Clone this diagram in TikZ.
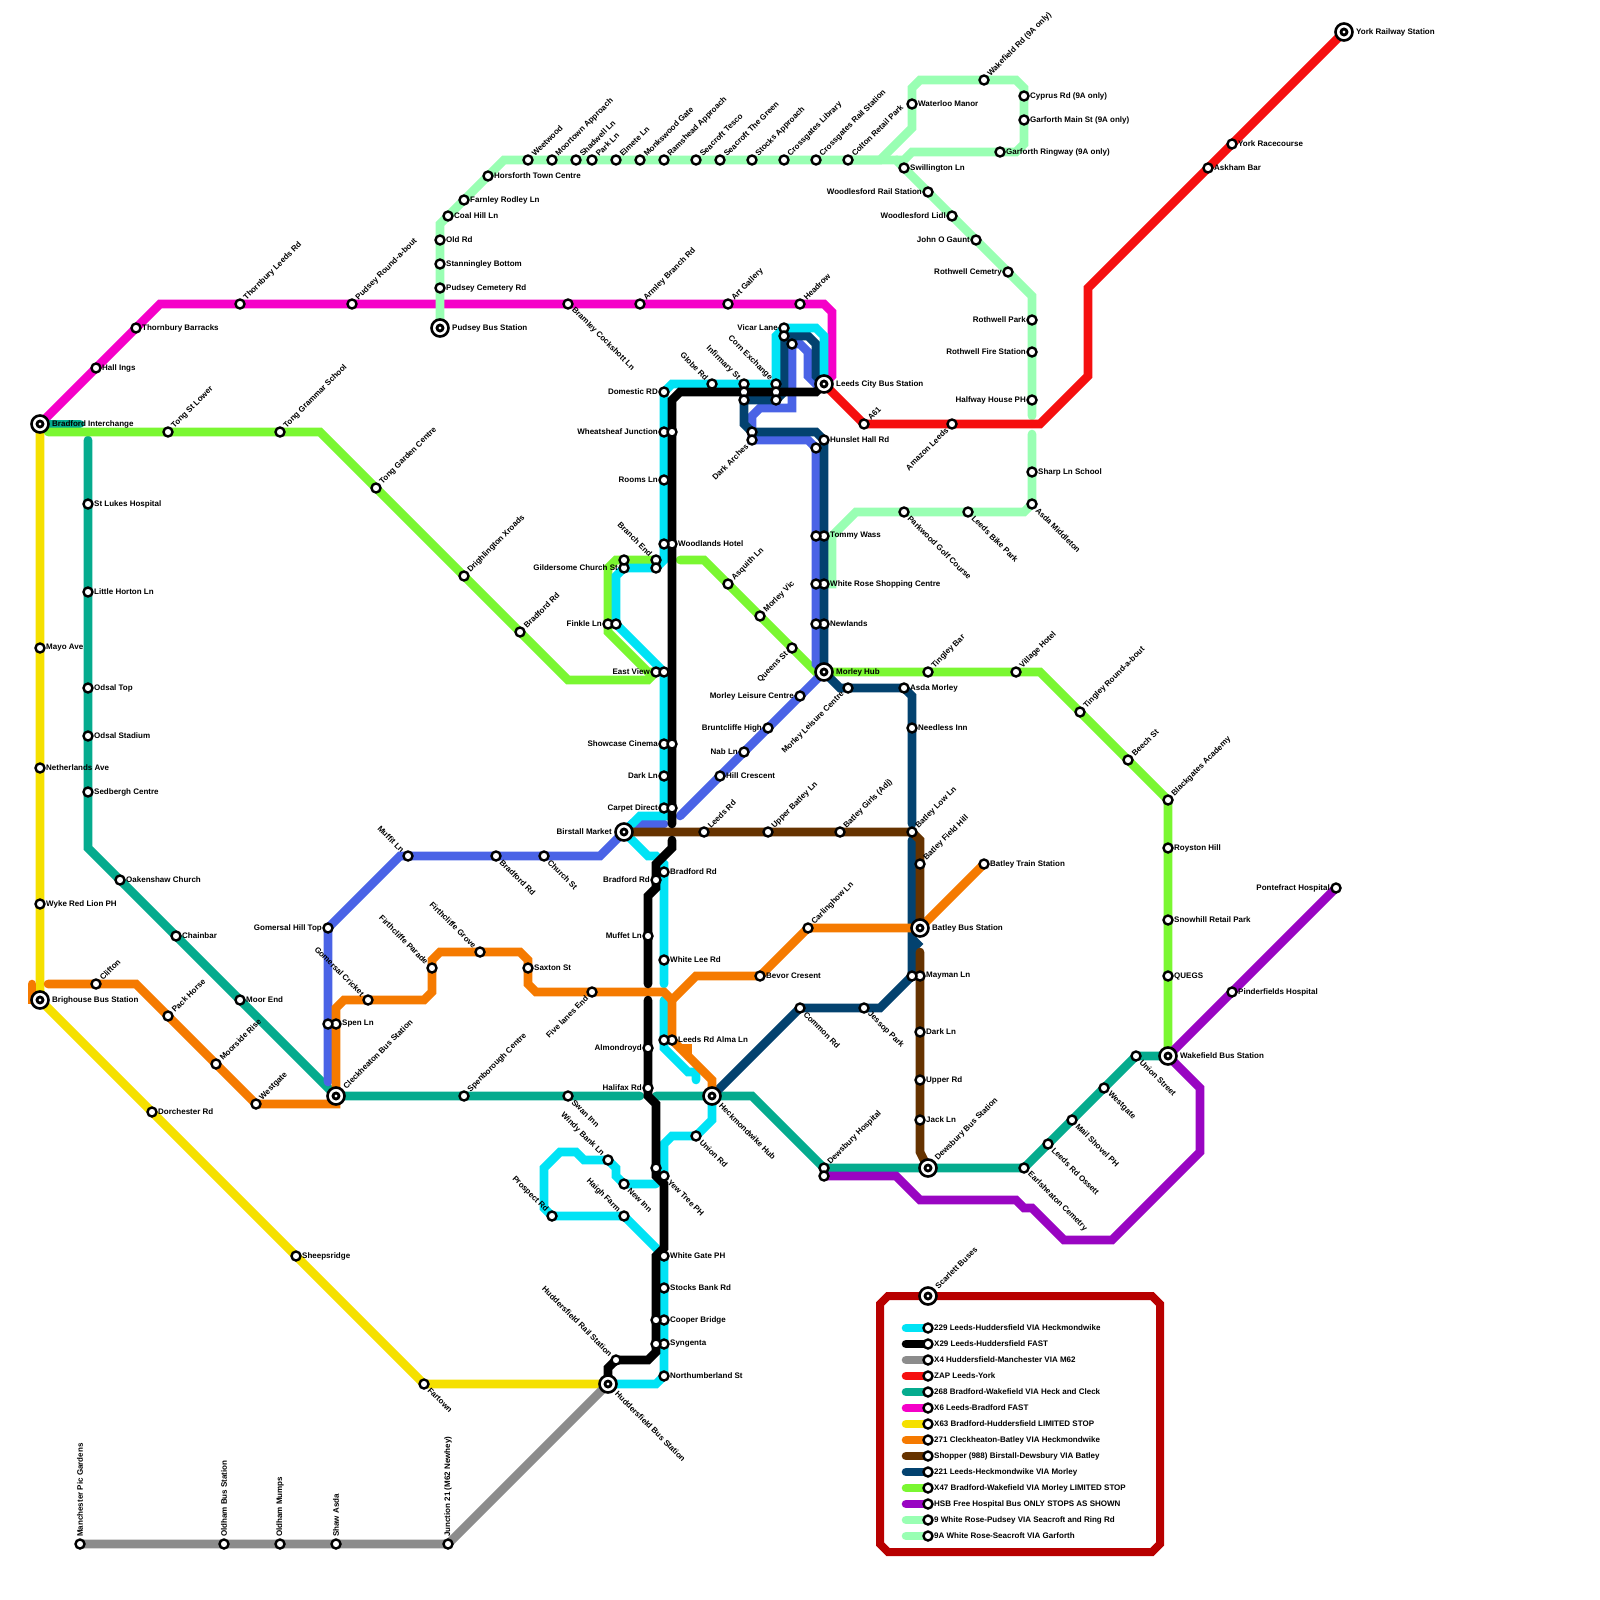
\documentclass[tikz,border=0pt]{standalone}
\usepackage{fontspec}
\setmainfont{Liberation Sans}
\definecolor{cCyan}{HTML}{00E3F5}
\definecolor{cGrey}{HTML}{8C8C8C}
\definecolor{cRed}{HTML}{F50F0F}
\definecolor{cTeal}{HTML}{05AB8E}
\definecolor{cMag}{HTML}{F500C8}
\definecolor{cYel}{HTML}{F5E000}
\definecolor{cOra}{HTML}{F57A00}
\definecolor{cBro}{HTML}{663300}
\definecolor{cNav}{HTML}{03426F}
\definecolor{cGre}{HTML}{7AF731}
\definecolor{cPur}{HTML}{9905C2}
\definecolor{cPal}{HTML}{99FFB3}
\definecolor{cFra}{HTML}{B80000}
\definecolor{cBlu}{HTML}{4A63E6}
\pgfdeclarelayer{lines}
\pgfsetlayers{lines,main}
\tikzset{
 rt/.style={line width=8.6pt,line cap=round,line join=miter},
 stop/.style={circle,draw=black,fill=white,line width=2.4pt,minimum size=9pt,inner sep=0pt},
 bigstop/.style={circle,draw=black,fill=white,line width=2.6pt,minimum size=17pt,inner sep=0pt,
   path picture={\draw[line width=2.8pt] (path picture bounding box.center) circle (3);}},
 lab/.style={font=\bfseries\fontsize{8}{9.5}\selectfont,text=black,inner ysep=0pt,inner xsep=6pt},
 tR/.style={lab,anchor=west},
 tL/.style={lab,anchor=east},
 tUR/.style={lab,anchor=west,rotate=45,inner xsep=7pt},
 tDR/.style={lab,anchor=west,rotate=-45,inner xsep=7pt},
 tUL/.style={lab,anchor=east,rotate=-45,inner xsep=7pt},
 tDL/.style={lab,anchor=east,rotate=45,inner xsep=7pt},
 tV/.style={lab,anchor=west,rotate=90,inner xsep=7pt},
 bg/.style={inner xsep=12pt}
}
\newcommand{\st}[5]{\node[stop] (#1) at (#2,#3) {}; \node[#5] (#1t) at (#1.center) {#4};}
\newcommand{\bst}[5]{\node[bigstop] (#1) at (#2,#3) {}; \node[#5,bg] (#1t) at (#1.center) {#4};}
\newcommand{\dt}[3]{\node[stop] (#1) at (#2,#3) {};}
\begin{document}
\begin{tikzpicture}[x=1pt,y=-1pt]
\useasboundingbox (0,0) rectangle (1600,1600);
% big stations
\bst{bi}{40}{424}{Bradford Interchange}{tR}
\bst{brig}{40}{1000}{Brighouse Bus Station}{tR}
\bst{cb}{336}{1096}{Cleckheaton Bus Station}{tUR}
\bst{pb}{440}{328}{Pudsey Bus Station}{tR}
\bst{lc}{824}{384}{Leeds City Bus Station}{tR}
\bst{york}{1344}{32}{York Railway Station}{tR}
\bst{bm}{624}{832}{Birstall Market}{tL}
\bst{mh}{824}{672}{Morley Hub}{tR}
\bst{bbs}{920}{928}{Batley Bus Station}{tR}
\bst{hub}{712}{1096}{Heckmondwike Hub}{tDR}
\bst{dbs}{928}{1168}{Dewsbury Bus Station}{tUR}
\bst{wbs}{1168}{1056}{Wakefield Bus Station}{tR}
\bst{hb}{608}{1384}{Huddersfield Bus Station}{tDR}
\bst{sc}{928}{1296}{Scarlett Buses}{tUR}
% magenta
\st{m1}{96}{368}{Hall Ings}{tR}
\st{m2}{136}{328}{Thornbury Barracks}{tR}
\st{m3}{240}{304}{Thornbury Leeds Rd}{tUR}
\st{m4}{352}{304}{Pudsey Round-a-bout}{tUR}
\st{m5}{568}{304}{Bramley Cockshott Ln}{tDR}
\st{m6}{640}{304}{Armley Branch Rd}{tUR}
\st{m7}{728}{304}{Art Gallery}{tUR}
\st{m8}{800}{304}{Headrow}{tUR}
% red
\st{r1}{864}{424}{A61}{tUR}
\st{r2}{952}{424}{Amazon Leeds}{tDL}
\st{r3}{1208}{168}{Askham Bar}{tR}
\st{r4}{1232}{144}{York Racecourse}{tR}
% pale green
\st{p1}{440}{288}{Pudsey Cemetery Rd}{tR}
\st{p2}{440}{264}{Stanningley Bottom}{tR}
\st{p3}{440}{240}{Old Rd}{tR}
\st{p4}{448}{216}{Coal Hill Ln}{tR}
\st{p5}{464}{200}{Farnley Rodley Ln}{tR}
\st{p6}{488}{176}{Horsforth Town Centre}{tR}
\st{p7}{528}{160}{Weetwood}{tUR}
\st{p8}{552}{160}{Moortown Approach}{tUR}
\st{p9}{576}{160}{Shadwell Ln}{tUR}
\st{p10}{592}{160}{Park Ln}{tUR}
\st{p11}{616}{160}{Elmete Ln}{tUR}
\st{p12}{640}{160}{Monkswood Gate}{tUR}
\st{p13}{664}{160}{Ramshead Approach}{tUR}
\st{p14}{696}{160}{Seacroft Tesco}{tUR}
\st{p15}{720}{160}{Seacroft The Green}{tUR}
\st{p16}{752}{160}{Stocks Approach}{tUR}
\st{p17}{784}{160}{Crossgates Library}{tUR}
\st{p18}{816}{160}{Crossgates Rail Station}{tUR}
\st{p19}{848}{160}{Colton Retail Park}{tUR}
\st{sw}{904}{168}{Swillington Ln}{tR}
\st{p20}{912}{104}{Waterloo Manor}{tR}
\st{p21}{984}{80}{Wakefield Rd (9A only)}{tUR}
\st{p22}{1024}{96}{Cyprus Rd (9A only)}{tR}
\st{p23}{1024}{120}{Garforth Main St (9A only)}{tR}
\st{p24}{1000}{152}{Garforth Ringway (9A only)}{tR}
\st{p25}{928}{192}{Woodlesford Rail Station}{tL}
\st{p26}{952}{216}{Woodlesford Lidl}{tL}
\st{p27}{976}{240}{John O Gaunt}{tL}
\st{p28}{1008}{272}{Rothwell Cemetry}{tL}
\st{p29}{1032}{320}{Rothwell Park}{tL}
\st{p30}{1032}{352}{Rothwell Fire Station}{tL}
\st{p31}{1032}{400}{Halfway House PH}{tL}
\st{p32}{1032}{472}{Sharp Ln School}{tR}
\st{p33}{1032}{504}{Asda Middleton}{tDR}
\st{p34}{968}{512}{Leeds Bike Park}{tDR}
\st{p35}{904}{512}{Parkwood Golf Course}{tDR}
% centre
\st{n1}{824}{536}{Tommy Wass}{tR}
\dt{n1b}{816}{536}
\st{wr}{824}{584}{White Rose Shopping Centre}{tR}
\dt{wrb}{816}{584}
\st{n2}{824}{624}{Newlands}{tR}
\dt{n2b}{816}{624}
\st{hh}{824}{440}{Hunslet Hall Rd}{tR}
\dt{hhb}{816}{448}
\st{dom}{664}{392}{Domestic RD}{tL}
\st{c1}{664}{432}{Wheatsheaf Junction}{tL}
\dt{c1b}{672}{432}
\st{c2}{664}{480}{Rooms Ln}{tL}
\st{c3}{672}{544}{Woodlands Hotel}{tR}
\dt{c3b}{664}{544}
\st{bre}{656}{560}{Branch End}{tUL}
\dt{breb}{656}{568}
\st{gc}{624}{568}{Gildersome Church St}{tL}
\dt{gcb}{624}{560}
\st{fl}{608}{624}{Finkle Ln}{tL}
\dt{flb}{616}{624}
\st{ev}{656}{672}{East View}{tL}
\dt{evb}{664}{672}
\st{c4}{664}{744}{Showcase Cinema}{tL}
\dt{c4b}{672}{744}
\st{c5}{664}{776}{Dark Ln}{tL}
\st{c6}{664}{808}{Carpet Direct}{tL}
\dt{c6b}{672}{808}
\st{c7}{712}{384}{Globe Rd}{tUL}
\st{c8}{744}{384}{Infirmary St}{tUL}
\dt{c8b}{744}{392}
\dt{c8c}{744}{400}
\st{c9}{776}{384}{Corn Exchange}{tUL}
\dt{c9b}{776}{392}
\dt{c9c}{776}{400}
\st{vl}{784}{328}{Vicar Lane}{tL}
\dt{vlb}{784}{336}
\dt{vlc}{792}{344}
\dt{da}{752}{432}
\st{dab}{752}{440}{Dark Arches}{tDL}
% brown
\st{b1}{704}{832}{Leeds Rd}{tUR}
\st{b2}{768}{832}{Upper Batley Ln}{tUR}
\st{b3}{840}{832}{Batley Girls (Adj)}{tUR}
\st{b4}{912}{832}{Batley Low Ln}{tUR}
\st{b5}{920}{864}{Batley Field Hill}{tUR}
\st{btr}{984}{864}{Batley Train Station}{tR}
\st{b6}{920}{976}{Mayman Ln}{tR}
\dt{b6b}{912}{976}
\st{b7}{920}{1032}{Dark Ln}{tR}
\st{b8}{920}{1080}{Upper Rd}{tR}
\st{b9}{920}{1120}{Jack Ln}{tR}
% navy
\st{v1}{904}{688}{Asda Morley}{tR}
\st{v2}{848}{688}{Morley Leisure Centre}{tDL}
\st{v3}{912}{728}{Needless Inn}{tR}
\st{v4}{800}{1008}{Common Rd}{tDR}
\st{v5}{864}{1008}{Jessop Park}{tDR}
% blue
\st{l1}{800}{696}{Morley Leisure Centre}{tL}
\st{l2}{768}{728}{Bruntcliffe High}{tL}
\st{l3}{744}{752}{Nab Ln}{tL}
\st{l4}{720}{776}{Hill Crescent}{tR}
\st{l5}{408}{856}{Muffit Ln}{tUL}
\st{l6}{496}{856}{Bradford Rd}{tDR}
\st{l7}{544}{856}{Church St}{tDR}
\st{l8}{328}{928}{Gomersal Hill Top}{tL}
% green
\st{g1}{168}{432}{Tong St Lower}{tUR}
\st{g2}{280}{432}{Tong Grammar School}{tUR}
\st{g3}{376}{488}{Tong Garden Centre}{tUR}
\st{g4}{464}{576}{Drighlington Xroads}{tUR}
\st{g5}{520}{632}{Bradford Rd}{tUR}
\st{g6}{728}{584}{Asquith Ln}{tUR}
\st{g7}{760}{616}{Morley Vic}{tUR}
\st{g8}{792}{648}{Queens St}{tDL}
\st{g9}{928}{672}{Tingley Bar}{tUR}
\st{g10}{1016}{672}{Village Hotel}{tUR}
\st{g11}{1080}{712}{Tingley Round-a-bout}{tUR}
\st{g12}{1128}{760}{Beech St}{tUR}
\st{g13}{1168}{800}{Blackgates Academy}{tUR}
\st{g14}{1168}{848}{Royston Hill}{tR}
\st{g15}{1168}{920}{Snowhill Retail Park}{tR}
\st{g16}{1168}{976}{QUEGS}{tR}
% purple
\st{pont}{1336}{888}{Pontefract Hospital}{tL}
\st{pind}{1232}{992}{Pinderfields Hospital}{tR}
% teal
\st{t1}{88}{504}{St Lukes Hospital}{tR}
\st{t2}{88}{592}{Little Horton Ln}{tR}
\st{t3}{88}{688}{Odsal Top}{tR}
\st{t4}{88}{736}{Odsal Stadium}{tR}
\st{t5}{88}{792}{Sedbergh Centre}{tR}
\st{t6}{120}{880}{Oakenshaw Church}{tR}
\st{t7}{176}{936}{Chainbar}{tR}
\st{t8}{240}{1000}{Moor End}{tR}
\st{t9}{464}{1096}{Spenborough Centre}{tUR}
\st{t10}{568}{1096}{Swan Inn}{tDR}
\st{dh}{824}{1168}{Dewsbury Hospital}{tUR}
\dt{dhb}{824}{1176}
\st{earl}{1024}{1168}{Earlsheaton Cemetry}{tDR}
\st{t11}{1048}{1144}{Leeds Rd Ossett}{tDR}
\st{t12}{1072}{1120}{Mail Shovel PH}{tDR}
\st{t13}{1104}{1088}{Westgate}{tDR}
\st{t14}{1136}{1056}{Union Street}{tDR}
% yellow
\st{y1}{40}{648}{Mayo Ave}{tR}
\st{y2}{40}{768}{Netherlands Ave}{tR}
\st{y3}{40}{904}{Wyke Red Lion PH}{tR}
\st{y4}{152}{1112}{Dorchester Rd}{tR}
\st{y5}{296}{1256}{Sheepsridge}{tR}
\st{fart}{424}{1384}{Fartown}{tDR}
% grey
\st{gy1}{80}{1544}{Manchester Pic Gardens}{tV}
\st{gy2}{224}{1544}{Oldham Bus Station}{tV}
\st{gy3}{280}{1544}{Oldham Mumps}{tV}
\st{gy4}{336}{1544}{Shaw Asda}{tV}
\st{j21}{448}{1544}{Junction 21 (M62 Newhey)}{tV}
% orange
\st{o1}{96}{984}{Clifton}{tUR}
\st{o2}{168}{1016}{Pack Horse}{tUR}
\st{o3}{216}{1064}{Moorside Rise}{tUR}
\st{o4}{256}{1104}{Westgate}{tUR}
\st{o5}{336}{1024}{Spen Ln}{tR}
\dt{o5b}{328}{1024}
\st{o6}{368}{1000}{Gomersal Cricket}{tUL}
\st{o7}{432}{968}{Firthcliffe Parade}{tUL}
\st{o8}{480}{952}{Firthcliffe Grove}{tUL}
\st{o9}{528}{968}{Saxton St}{tR}
\st{o10}{592}{992}{Five lanes End}{tDL}
\st{o11}{672}{1040}{Leeds Rd Alma Ln}{tR}
\dt{o11b}{664}{1040}
\st{o12}{760}{976}{Bevor Cresent}{tR}
\st{o13}{808}{928}{Carlinghow Ln}{tUR}
% black and cyan south
\st{k1}{656}{880}{Bradford Rd}{tL}
\st{k2}{664}{872}{Bradford Rd}{tR}
\st{k3}{648}{936}{Muffet Ln}{tL}
\st{k4}{664}{960}{White Lee Rd}{tR}
\st{k5}{648}{1048}{Almondroyd}{tL}
\st{k6}{648}{1088}{Halifax Rd}{tL}
\st{k7}{696}{1136}{Union Rd}{tDR}
\dt{k8}{656}{1168}
\st{yt}{664}{1176}{Yew Tree PH}{tDR}
\st{s1}{608}{1160}{Windy Bank Ln}{tUL}
\st{s2}{624}{1184}{New Inn}{tDR}
\st{s3}{624}{1216}{Haigh Farm}{tUL}
\st{s4}{552}{1216}{Prospect Rd}{tUL}
\st{wg}{664}{1256}{White Gate PH}{tR}
\st{s5}{664}{1288}{Stocks Bank Rd}{tR}
\st{s6}{664}{1320}{Cooper Bridge}{tR}
\dt{s6b}{656}{1320}
\st{s7}{664}{1344}{Syngenta}{tR}
\dt{s7b}{656}{1344}
\st{s8}{664}{1376}{Northumberland St}{tR}
\st{hr}{616}{1360}{Huddersfield Rail Station}{tUL}
% legend
\foreach \yy/\cc/\tt in {1328/cCyan/229 Leeds-Huddersfield VIA Heckmondwike,
 1344/black/X29 Leeds-Huddersfield FAST,
 1360/cGrey/X4 Huddersfield-Manchester VIA M62,
 1376/cRed/ZAP Leeds-York,
 1392/cTeal/268 Bradford-Wakefield VIA Heck and Cleck,
 1408/cMag/X6 Leeds-Bradford FAST,
 1424/cYel/X63 Bradford-Huddersfield LIMITED STOP,
 1440/cOra/271 Cleckheaton-Batley VIA Heckmondwike,
 1456/cBro/Shopper (988) Birstall-Dewsbury VIA Batley,
 1472/cNav/221 Leeds-Heckmondwike VIA Morley,
 1488/cGre/X47 Bradford-Wakefield VIA Morley LIMITED STOP,
 1504/cPur/HSB Free Hospital Bus ONLY STOPS AS SHOWN,
 1520/cPal/9 White Rose-Pudsey VIA Seacroft and Ring Rd,
 1536/cPal/9A White Rose-Seacroft VIA Garforth}{
  \node[stop] (key\yy) at (928,\yy) {};
  \node[tR,inner xsep=6pt] (keyt\yy) at (key\yy.center) {\tt};
  \coordinate (keys\yy) at (906,\yy);
  \begin{pgfonlayer}{lines}
   \draw[rt,\cc] (keys\yy) -- (key\yy.center);
  \end{pgfonlayer}
}
\begin{pgfonlayer}{lines}
% frame
\draw[line width=8pt,cFra,line join=miter] (888,1296) -- (sc.center) -- (1152,1296) -- (1160,1304) -- (1160,1544) -- (1152,1552) -- (888,1552) -- (880,1544) -- (880,1304) -- cycle;
% magenta
\draw[rt,cMag] (bi.center) -- (160,304) -- (824,304) -- (832,312) -- (832,376) -- (lc.center);
% yellow
\draw[rt,cYel] (bi.center) -- (brig.center) -- (fart.center) -- (hb.center);
% teal
\coordinate (te1) at (80,424);
\coordinate (te2) at (88,440);
\coordinate (te3) at (640,1096);
\coordinate (te4) at (656,1096);
\draw[rt,cTeal] (bi.center) -- (te1);
\draw[rt,cTeal] (te2) -- (88,848) -- (cb.center) -- (te3);
\draw[rt,cTeal] (te4) -- (752,1096) -- (dh.center) -- (earl.center) -- (t14.center) -- (wbs.center);
% grey
\draw[rt,cGrey] (gy1.center) -- (j21.center) -- (hb.center);
% pale green
\coordinate (pe1) at (1032,416);
\coordinate (pe2) at (1032,434);
\draw[rt,cPal] (pb.center) -- (440,224) -- (504,160) -- (880,160) -- (912,128) -- (912,88) -- (920,80) -- (1016,80) -- (1024,88) -- (1024,144) -- (1016,152) -- (912,152) -- (904,160) -- (896,160);
\draw[rt,cPal] (p19.center) -- (896,160) -- (1032,296) -- (pe1);
\draw[rt,cPal] (pe2) -- (1032,504) -- (1024,512) -- (856,512) -- (832,536) -- (832,584) -- (wr.center);
% green
\coordinate (ge1) at (48,432);
\coordinate (ge2) at (680,560);
\draw[rt,cGre] (ge1) -- (320,432) -- (568,680) -- (648,680) -- (ev.center);
\draw[rt,cGre] (ev.center) -- (648,672) -- (608,632) -- (608,568) -- (616,560) -- (bre.center);
\draw[rt,cGre] (ge2) -- (704,560) -- (816,672) -- (mh.center) -- (1040,672) -- (g13.center) -- (wbs.center);
% blue
\coordinate (be1) at (680,816);
\coordinate (be2) at (664,824);
\coordinate (be3) at (328,1082);
\draw[rt,cBlu] (lc.center) -- (816,384) -- (808,376) -- (808,352) -- (800,344) -- (vlc.center) -- (792,408) -- (760,408) -- (752,416) -- (dab.center) -- (808,440) -- (hhb.center) -- (816,664) -- (mh.center) -- (be1);
\draw[rt,cBlu] (be2) -- (632,824) -- (bm.center) -- (600,856) -- (400,856) -- (l8.center) -- (be3);
% navy
\coordinate (ne1) at (912,824);
\coordinate (ne2) at (912,840);
\draw[rt,cNav] (lc.center) -- (816,376) -- (816,344) -- (808,336) -- (792,336) -- (vlb.center) -- (784,392) -- (776,400) -- (c8c.center) -- (744,424) -- (da.center) -- (816,432) -- (hh.center) -- (mh.center) -- (840,688) -- (904,688) -- (912,696) -- (ne1);
\draw[rt,cNav] (ne2) -- (b6b.center) -- (880,1008) -- (v4.center) -- (hub.center);
\draw[cNav,fill=cNav,line width=2pt] (912,934) -- (922,944) -- (912,954) -- cycle;
% cyan
\coordinate (ce1) at (664,984);
\coordinate (ce2) at (664,1000);
\coordinate (ce3) at (696,1080);
\coordinate (ce4) at (656,1184);
\draw[rt,cCyan] (lc.center) -- (824,336) -- (816,328) -- (784,328) -- (776,336) -- (c9.center) -- (672,384) -- (dom.center) -- (664,560) -- (breb.center) -- (gc.center) -- (616,576) -- (flb.center) -- (evb.center) -- (664,816) -- (640,816) -- (bm.center) -- (648,856) -- (656,856) -- (664,864) -- (ce1);
\draw[rt,cCyan] (ce2) -- (664,1048) -- (688,1072) -- (696,1072) -- (ce3);
\draw[rt,cCyan] (hub.center) -- (712,1120) -- (k7.center) -- (672,1136) -- (664,1144) -- (yt.center);
\draw[rt,cCyan] (wg.center) -- (s3.center) -- (s4.center) -- (544,1208) -- (544,1168) -- (560,1152) -- (576,1152) -- (584,1160) -- (s1.center) -- (616,1168) -- (616,1176) -- (s2.center) -- (ce4);
\draw[rt,cCyan] (wg.center) -- (664,1376) -- (656,1384) -- (hb.center);
% orange
\coordinate (oe1) at (32,984);
\coordinate (oe2) at (48,984);
\coordinate (oe3) at (688,1056);
\coordinate (oe4) at (680,1048);
\draw[rt,cOra] (oe1) -- (32,1000) -- (brig.center);
\draw[rt,cOra] (oe2) -- (136,984) -- (o4.center) -- (336,1104) -- (cb.center);
\draw[rt,cOra] (cb.center) -- (336,1008) -- (344,1000) -- (424,1000) -- (432,992) -- (432,960) -- (440,952) -- (520,952) -- (528,960) -- (528,984) -- (536,992) -- (664,992) -- (672,1000) -- (696,976) -- (o12.center) -- (o13.center) -- (bbs.center) -- (btr.center);
\draw[rt,cOra] (672,1000) -- (o11.center) -- (712,1080) -- (hub.center);
\draw[rt,cOra] (oe4) -- (688,1048) -- (oe3);
% brown
\coordinate (be4) at (920,952);
\draw[rt,cBro] (bm.center) -- (912,832) -- (920,840) -- (bbs.center);
\draw[rt,cBro] (be4) -- (920,1152) -- (dbs.center);
% red
\draw[rt,cRed] (lc.center) -- (r1.center) -- (1040,424) -- (1088,376) -- (1088,288) -- (york.center);
% purple
\draw[rt,cPur] (pont.center) -- (wbs.center) -- (1200,1088) -- (1200,1152) -- (1112,1240) -- (1064,1240) -- (1032,1208) -- (1024,1208) -- (1016,1200) -- (920,1200) -- (896,1176) -- (dhb.center);
% black
\coordinate (ke1) at (672,824);
\coordinate (ke2) at (672,840);
\coordinate (ke3) at (648,984);
\coordinate (ke4) at (648,1000);
\draw[rt,black] (lc.center) -- (816,392) -- (680,392) -- (672,400) -- (ke1);
\draw[rt,black] (ke2) -- (672,848) -- (656,864) -- (656,888) -- (648,896) -- (ke3);
\draw[rt,black] (ke4) -- (648,1096) -- (656,1104) -- (656,1176) -- (664,1184) -- (664,1248) -- (656,1256) -- (656,1352) -- (648,1360) -- (hr.center) -- (608,1368) -- (hb.center);
\end{pgfonlayer}
\end{tikzpicture}
\end{document}
